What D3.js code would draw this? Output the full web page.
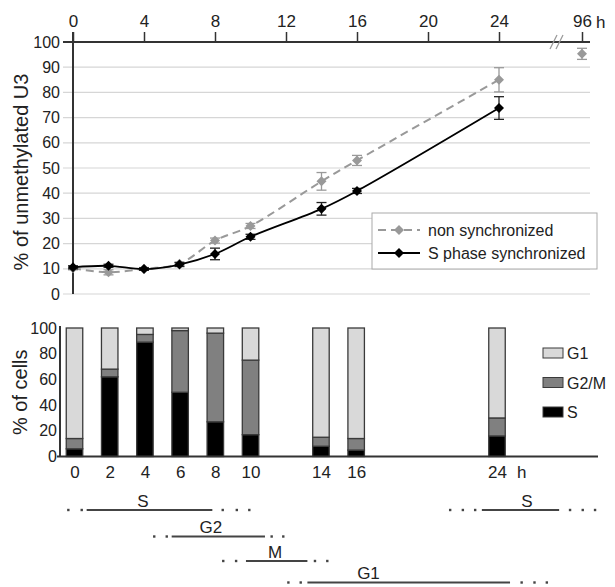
<!DOCTYPE html>
<html><head><meta charset="utf-8">
<script src="https://cdn.jsdelivr.net/npm/d3@7"></script>
<style>body{margin:0;background:#fff} svg{display:block;font-family:"Liberation Sans",Arial,sans-serif}</style>
</head><body><svg id="c" width="615" height="587"></svg>
<script>
// ---------- data ----------
const hours = [0, 2, 4, 6, 8, 10, 14, 16, 24];
const nonSync = [10.2, 8.6, 10, 12, 21.2, 27, 44.7, 53, 85];
const nonSyncErr = [0.6, 1, 0.5, 0.6, 1, 1, 3.5, 2, 4.8];
const lateHours = [96];
const lateNonSync = [95.3];
const lateNonSyncErr = [2.2];
const sPhase = [10.6, 11.2, 9.9, 11.7, 15.9, 22.7, 33.8, 40.9, 73.8];
const sPhaseErr = [0.6, 0.6, 0.5, 0.8, 2.3, 1, 2.5, 1, 4.5];
const topTicks = [0, 4, 8, 12, 16, 20, 24, 96];
const yTopTicks = [0, 10, 20, 30, 40, 50, 60, 70, 80, 90, 100];
const seriesNames = ["non synchronized", "S phase synchronized"];

const barHours = [0, 2, 4, 6, 8, 10, 14, 16, 24];
const pctS = [6, 62, 89, 50, 27, 17, 8, 5, 16];
const pctG2M = [8, 6, 6, 48, 69, 58, 7, 9, 14];
const pctG1 = [86, 32, 5, 2, 4, 25, 85, 86, 70];
const yBarTicks = [0, 20, 40, 60, 80, 100];
const phaseKeys = ["G1", "G2/M", "S"];

const phases = ["S", "G2", "M", "G1", "S"];
const phaseRow = [0, 1, 2, 3, 0];
const phaseStart = [0.69, 5.52, 9.74, 13.23, 23.14];
const phaseEnd = [7.83, 10.82, 13.23, 24.74, 27.53];
const phaseLabelAt = [3.88, 7.74, 11.4, 16.7, 25.7];
const dotsBefore = [[-0.35, 0.41], [4.53, 5.24], [8.45, 9.18], [12.15, 12.85], [21.34, 22.06, 22.76]];
const dotsAfter = [[8.42, 9.22, 9.93], [11.2, 11.86], [13.66, 14.36], [25.4, 26.13, 26.83], [28.15, 28.87, 29.57]];

// ---------- drawing ----------
const svg = d3.select("#c");
const dark = "#333", gray = "#999";

// top chart scales
const xT = d3.scaleLinear().domain([0, 24, 96]).range([73, 499, 582]);
const yT = d3.scaleLinear().domain([0, 100]).range([294, 42]);

// gridlines
svg.append("g").selectAll("line").data(yTopTicks.filter(d => d < 100)).join("line")
  .attr("x1", 63).attr("x2", 590).attr("y1", d => yT(d)).attr("y2", d => yT(d))
  .attr("stroke", "#d6d6d6").attr("stroke-width", 1.2);

// y axis labels
const yAx = svg.append("g").attr("transform", "translate(73,0)")
  .call(d3.axisLeft(yT).tickValues(yTopTicks).tickSize(0).tickPadding(13));
yAx.select(".domain").remove();
yAx.selectAll("text").attr("font-size", 16).attr("fill", "#222").style("font-family", "inherit");

// y axis line
svg.append("line").attr("x1", 73).attr("x2", 73).attr("y1", 32).attr("y2", yT(0))
  .attr("stroke", dark).attr("stroke-width", 2);
// top axis line
svg.append("line").attr("x1", 63).attr("x2", 590).attr("y1", yT(100)).attr("y2", yT(100))
  .attr("stroke", dark).attr("stroke-width", 2);
// top ticks + labels
const xAx = svg.append("g").attr("transform", `translate(0,${yT(100)})`)
  .call(d3.axisTop(xT).tickValues(topTicks).tickSize(10).tickPadding(5).tickFormat(d3.format("d")));
xAx.select(".domain").remove();
xAx.selectAll("line").attr("stroke", dark).attr("stroke-width", 1.5);
xAx.selectAll("text").attr("font-size", 17).attr("fill", "#222").style("font-family", "inherit");
svg.append("text").attr("x", xT(96) + 14).attr("y", 28).attr("font-size", 17).attr("fill", "#222").text("h");
// axis break marks
[0, 6].forEach(o => svg.append("line")
  .attr("x1", 550 + o).attr("y1", 49).attr("x2", 557 + o).attr("y2", 35)
  .attr("stroke", gray).attr("stroke-width", 1.2));

// y title
svg.append("text").attr("transform", `translate(28,${(yT(0) + yT(100)) / 2 + 4}) rotate(-90)`)
  .attr("text-anchor", "middle").attr("font-size", 20).attr("fill", "#222").text("% of unmethylated U3");

// series
const diamond = r => `M0,${-r}L${r},0L0,${r}L${-r},0Z`;
const line = d3.line().x(d => xT(d[0])).y(d => yT(d[1])).curve(d3.curveCatmullRom.alpha(0.5));
const nsPts = hours.map((h, i) => [h, nonSync[i], nonSyncErr[i]]);
const spPts = hours.map((h, i) => [h, sPhase[i], sPhaseErr[i]]);
const latePts = lateHours.map((h, i) => [h, lateNonSync[i], lateNonSyncErr[i]]);

function errBars(pts, color) {
  const g = svg.append("g").attr("stroke", color).attr("stroke-width", 1.3);
  pts.forEach(p => {
    g.append("line").attr("x1", xT(p[0])).attr("x2", xT(p[0])).attr("y1", yT(p[1] - p[2])).attr("y2", yT(p[1] + p[2]));
    [p[1] - p[2], p[1] + p[2]].forEach(v => g.append("line").attr("x1", xT(p[0]) - 5).attr("x2", xT(p[0]) + 5).attr("y1", yT(v)).attr("y2", yT(v)));
  });
}
errBars(nsPts.concat(latePts), gray);
svg.append("path").datum(nsPts).attr("d", line).attr("fill", "none").attr("stroke", gray)
  .attr("stroke-width", 2).attr("stroke-dasharray", "8,5");
svg.append("g").selectAll("path").data(nsPts.concat(latePts)).join("path")
  .attr("d", diamond(5)).attr("transform", d => `translate(${xT(d[0])},${yT(d[1])})`).attr("fill", gray);

errBars(spPts, "#222");
svg.append("path").datum(spPts).attr("d", line).attr("fill", "none").attr("stroke", "#000").attr("stroke-width", 1.8);
svg.append("g").selectAll("path").data(spPts).join("path")
  .attr("d", diamond(5)).attr("transform", d => `translate(${xT(d[0])},${yT(d[1])})`).attr("fill", "#000");

// legend
const lg = svg.append("g");
lg.append("rect").attr("x", 372).attr("y", 213).attr("width", 225).attr("height", 56)
  .attr("fill", "#fff").attr("stroke", "#aaa").attr("stroke-width", 1);
seriesNames.forEach((n, i) => {
  const y = 230 + i * 23;
  const c = i === 0 ? gray : "#000";
  lg.append("line").attr("x1", 378).attr("x2", 420).attr("y1", y).attr("y2", y).attr("stroke", c)
    .attr("stroke-width", i === 0 ? 2 : 1.8).attr("stroke-dasharray", i === 0 ? "8,5" : null);
  lg.append("path").attr("d", diamond(5)).attr("transform", `translate(399,${y})`).attr("fill", c);
  lg.append("text").attr("x", 428).attr("y", y + 6).attr("font-size", 16).attr("fill", "#222").text(n);
});

// ---------- bar chart ----------
const xB = d3.scaleLinear().domain([0, 24]).range([74.5, 497]);
const yB = d3.scaleLinear().domain([0, 100]).range([456.5, 328]);
const colors = { "S": "#000", "G2/M": "#808080", "G1": "#d9d9d9" };
const bw = 16.5;
const stackData = barHours.map((h, i) => ({ h, "S": pctS[i], "G2/M": pctG2M[i], "G1": pctG1[i] }));
const stack = d3.stack().keys(["S", "G2/M", "G1"])(stackData);
svg.append("g").selectAll("g").data(stack).join("g").attr("fill", d => colors[d.key])
  .selectAll("rect").data(d => d).join("rect")
  .attr("x", d => xB(d.data.h) - bw / 2).attr("width", bw)
  .attr("y", d => yB(d[1])).attr("height", d => yB(d[0]) - yB(d[1]))
  .attr("stroke", "#3a3a3a").attr("stroke-width", 1.3);

const yBAx = svg.append("g").attr("transform", "translate(60,0)")
  .call(d3.axisLeft(yB).tickValues(yBarTicks).tickSize(0).tickPadding(3));
yBAx.select(".domain").remove();
yBAx.selectAll("text").attr("font-size", 16).attr("fill", "#222").style("font-family", "inherit");
svg.append("line").attr("x1", 60).attr("x2", 60).attr("y1", 326).attr("y2", yB(0)).attr("stroke", dark).attr("stroke-width", 2);
svg.append("line").attr("x1", 57).attr("x2", 598).attr("y1", yB(0)).attr("y2", yB(0)).attr("stroke", dark).attr("stroke-width", 2);

const xBAx = svg.append("g").attr("transform", `translate(0,${yB(0)})`)
  .call(d3.axisBottom(xB).tickValues(barHours).tickSize(0).tickPadding(9).tickFormat(d3.format("d")));
xBAx.select(".domain").remove();
xBAx.selectAll("text").attr("font-size", 17).attr("fill", "#222").style("font-family", "inherit");
svg.append("text").attr("x", xB(24) + 20).attr("y", 478).attr("font-size", 17).attr("fill", "#222").text("h");

svg.append("text").attr("transform", `translate(27,${(yB(0) + yB(100)) / 2}) rotate(-90)`)
  .attr("text-anchor", "middle").attr("font-size", 20).attr("fill", "#222").text("% of cells");

// bar legend
phaseKeys.forEach((k, i) => {
  const y = 353 + i * 29.5;
  svg.append("rect").attr("x", 543).attr("y", y - 5).attr("width", 20).attr("height", 10)
    .attr("fill", colors[k]).attr("stroke", "#3a3a3a").attr("stroke-width", 1);
  svg.append("text").attr("x", 567).attr("y", y + 6).attr("font-size", 16).attr("fill", "#222").text(k);
});

// phase lines
const rowY = [510, 536.5, 561, 582.5];
phases.forEach((p, i) => {
  const y = rowY[phaseRow[i]];
  svg.append("line").attr("x1", xB(phaseStart[i])).attr("x2", xB(phaseEnd[i])).attr("y1", y).attr("y2", y)
    .attr("stroke", "#444").attr("stroke-width", 2.2);
  dotsBefore[i].concat(dotsAfter[i]).forEach(t => svg.append("rect")
    .attr("x", xB(t) - 1.2).attr("y", y - 1.2).attr("width", 2.4).attr("height", 2.4).attr("fill", "#444"));
  svg.append("text").attr("x", xB(phaseLabelAt[i])).attr("y", y - 3.5).attr("text-anchor", "middle")
    .attr("font-size", 17).attr("fill", "#222").text(p);
});
</script></body></html>
